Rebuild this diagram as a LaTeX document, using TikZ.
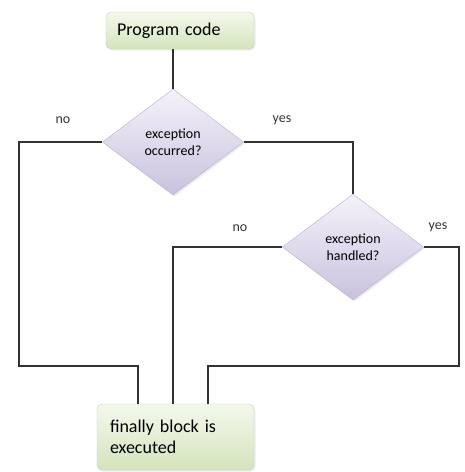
\documentclass[tikz,border=0pt]{standalone}
\usepackage{fontspec}
\setmainfont{Carlito}
\usepackage{tikz}
\usetikzlibrary{
    arrows.meta,
    positioning,
    shapes.geometric,
    shadows
}
\usepackage{xcolor}
\definecolor{boxtop}{RGB}{244,248,236}
\definecolor{boxbot}{RGB}{212,228,188}
\definecolor{boxline}{RGB}{196,208,180}
\definecolor{dectop}{RGB}{244,242,250}
\definecolor{decbot}{RGB}{202,194,222}
\definecolor{decline}{RGB}{186,176,208}
\definecolor{wire}{RGB}{50,50,50}

\begin{document}
\begin{tikzpicture}[
        x=1pt, y=-1pt,
        block/.style={
            rectangle,
            rounded corners=5pt,
            draw=boxline,
            top color=boxtop,
            bottom color=boxbot,
            drop shadow={opacity=0.15, shadow xshift=1.5pt, shadow yshift=-1.5pt},
            align=left,
            font=\fontsize{18}{21}\selectfont
        },
        decision/.style={
            diamond,
            draw=decline,
            top color=dectop,
            bottom color=decbot,
            drop shadow={opacity=0.15, shadow xshift=1.5pt, shadow yshift=-1.5pt},
            inner sep=0pt,
            minimum width=141pt,
            minimum height=106pt,
            align=center,
            font=\fontsize{14}{17}\selectfont
        },
        lbl/.style={font=\fontsize{14}{17}\selectfont, text=black!80},
        link/.style={draw=wire, line width=1.2pt}
    ]
        \useasboundingbox (0,0) rectangle (464,472);
        \node[block, minimum width=148pt, minimum height=37pt, text width=126pt] (code) at (180,30.5) {Program code};
        \node[decision] (exc) at (173,142) {exception\\occurred?};
        \node[decision] (hdl) at (353,247) {exception\\handled?};
        \node[block, minimum width=157pt, minimum height=66pt, text width=131pt] (fin) at (175.5,437) {finally block is\\executed};

        % labels on the branches
        \node[lbl] (noA) at (63,120) {no};
        \node[lbl] (yesA) at (282,120) {yes};
        \node[lbl] (noB) at (240,228) {no};
        \node[lbl] (yesB) at (438,227) {yes};

        \coordinate (l1) at (19,366);
        \coordinate (l2) at (138,366);
        \coordinate (r1) at (459,366);
        \coordinate (r2) at (208,366);

        \draw[link] (exc.north |- code.south) -- (exc.north);
        \draw[link] (exc.east) -| (hdl.north);
        \draw[link] (exc.west) -| (l1) -- (l2) -- (l2 |- fin.north);
        \draw[link] (hdl.west) -| (exc.south |- fin.north);
        \draw[link] (hdl.east) -| (r1) -- (r2) -- (r2 |- fin.north);
    \end{tikzpicture}
\end{document}
